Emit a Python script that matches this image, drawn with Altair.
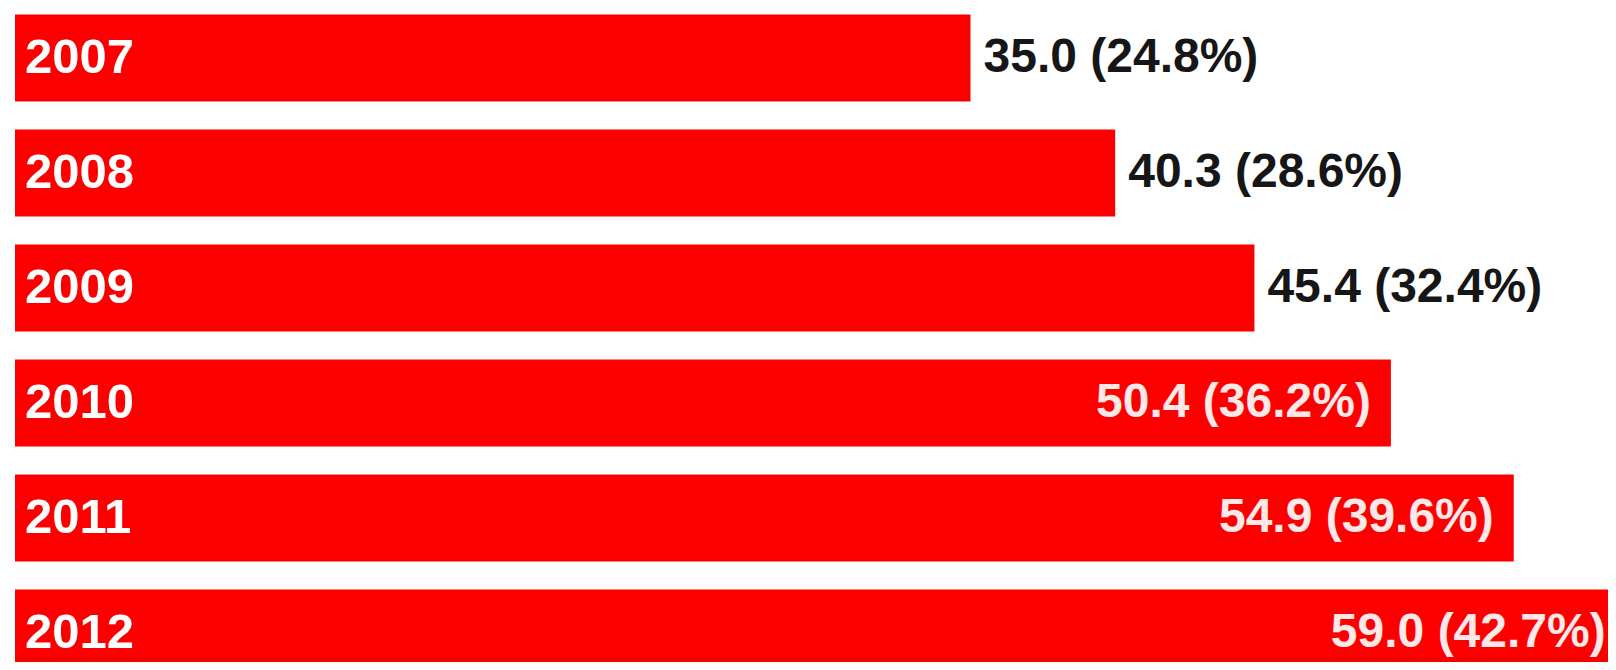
import altair as alt
import pandas as pd

years = ["2007", "2008", "2009", "2010", "2011", "2012"]
values = [35.0, 40.3, 45.4, 50.4, 54.9, 59.0]
shares = [24.8, 28.6, 32.4, 36.2, 39.6, 42.7]

df = pd.DataFrame({"year": years, "value": values, "share": shares})
df["label"] = [f"{v:.1f} ({s:.1f}%)" for v, s in zip(values, shares)]
df["inside"] = df["value"] > 48

FONT = "Liberation Sans Narrow, Arial Narrow, Liberation Sans, Arial, sans-serif"

x_scale = alt.Scale(domain=[0, 60], range=[0, 1638], nice=False, zero=True)
y_scale = alt.Scale(domain=years, range=[0, 675], paddingInner=0.243, paddingOuter=0.0557)

base = alt.Chart(df).encode(
    y=alt.Y("year:N", scale=y_scale, axis=None, sort=years),
)

bars = base.mark_bar(color="#fc0000", clip=True).encode(
    x=alt.X("value:Q", scale=x_scale, axis=None),
)

year_text = base.mark_text(
    align="left", baseline="middle", font=FONT, fontSize=49,
    fontWeight="bold", color="white",
).encode(x=alt.value(10), text="year:N")

out_text = base.transform_filter("!datum.inside").mark_text(
    align="left", baseline="middle", dx=13, font=FONT, fontSize=48,
    fontWeight="bold", color="#161616",
).encode(x=alt.X("value:Q", scale=x_scale, axis=None), text="label:N")

in_text = base.transform_filter("datum.inside").mark_text(
    align="right", baseline="middle", dx=-20, font=FONT, fontSize=48,
    fontWeight="bold", color="#ffe8e8",
).encode(x=alt.X("value:Q", scale=x_scale, axis=None), text="label:N")

chart = alt.layer(bars, year_text, out_text, in_text).properties(
    width=1593, height=654,
    autosize=alt.AutoSizeParams(type="none"),
    padding={"left": 7, "top": 0, "right": 0, "bottom": 0},
    background="white",
).configure_view(stroke=None)

chart.save("out.html", embed_options={"renderer": "svg", "actions": False})
